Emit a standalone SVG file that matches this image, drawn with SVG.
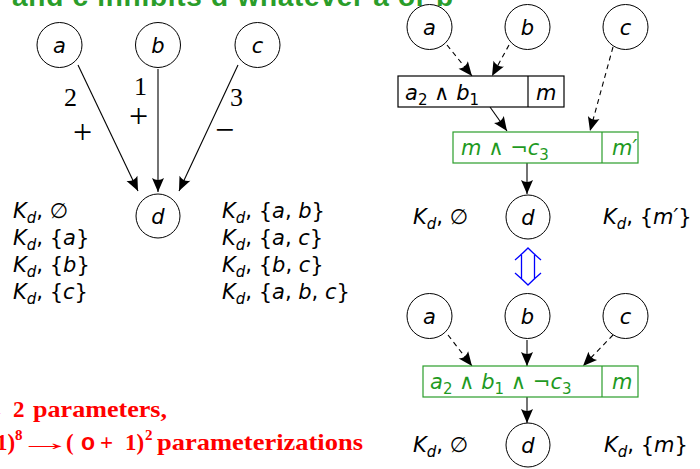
<svg xmlns="http://www.w3.org/2000/svg" width="700" height="469" viewBox="0 0 700 469">
<style>
  .node circle { fill: #fff; stroke: #000; stroke-width: 1; }
  .lbl { font-family: "DejaVu Sans", "Liberation Sans", sans-serif; font-size: 21px; font-style: italic; fill: #000; }
  .m { font-family: "DejaVu Sans", "Liberation Sans", sans-serif; font-size: 21px; fill: #000; }
  .it { font-style: italic; }
  .sub { font-size: 15px; font-style: normal; }
  .subi { font-size: 15px; font-style: italic; }
  .num { font-family: "Liberation Serif", serif; font-size: 26px; fill: #000; }
  .op { font-family: "Liberation Serif", serif; font-size: 34px; fill: #000; }
  .edge { stroke: #000; stroke-width: 1.1; fill: none; }
  .dash { stroke-dasharray: 5 4; }
  .box { fill: #fff; stroke: #000; stroke-width: 1.2; }
  .gbox { fill: #fff; stroke: #2a9d2a; stroke-width: 1.2; }
  .g { fill: #1f9a1f; }
  .red { font-family: "Liberation Serif", serif; font-weight: bold; font-size: 23px; fill: #f00; }
  .title { font-family: "Liberation Sans", "DejaVu Sans", sans-serif; font-weight: bold; font-size: 28px; fill: #2a9d2a; }
</style>
<defs>
  <marker id="arr" markerUnits="userSpaceOnUse" markerWidth="18" markerHeight="16" viewBox="-16 -8 18 16" refX="0" refY="0" orient="auto">
    <path d="M0,0 L-14,-6 Q-10,0 -14,6 Z" fill="#000"/>
  </marker>
</defs>

<text id="title" class="title" x="12" y="6" textLength="441" lengthAdjust="spacing">and c inhibits d whatever a or b</text>

<!-- Left diagram -->
<g id="connectors-left">
  <line class="edge" x1="78" y1="65" x2="138" y2="191" marker-end="url(#arr)"/>
  <line class="edge" x1="158" y1="69" x2="158" y2="192" marker-end="url(#arr)"/>
  <line class="edge" x1="238" y1="65" x2="179" y2="191" marker-end="url(#arr)"/>
  <text class="num" x="64" y="106">2</text>
  <text class="op" x="73" y="143">+</text>
  <text class="num" x="134" y="95">1</text>
  <text class="op" x="129" y="127">+</text>
  <text class="num" x="230" y="106">3</text>
  <text class="op" x="215" y="141">−</text>
</g>
<g id="L-a" class="node"><circle cx="59.5" cy="45" r="22.5"/><text class="lbl" x="59.5" y="53" text-anchor="middle">a</text></g>
<g id="L-b" class="node"><circle cx="158" cy="45" r="22.5"/><text class="lbl" x="158" y="53" text-anchor="middle">b</text></g>
<g id="L-c" class="node"><circle cx="257.5" cy="45" r="22.5"/><text class="lbl" x="257.5" y="53" text-anchor="middle">c</text></g>
<g id="L-d" class="node"><circle cx="158" cy="216" r="22"/><text class="lbl" x="158" y="224" text-anchor="middle">d</text></g>

<g id="L-params-left" class="m">
  <text x="13" y="218"><tspan class="it">K</tspan><tspan class="subi" dy="5">d</tspan><tspan dy="-5">, ∅</tspan></text>
  <text x="13" y="245"><tspan class="it">K</tspan><tspan class="subi" dy="5">d</tspan><tspan dy="-5">, {</tspan><tspan class="it">a</tspan>}</text>
  <text x="13" y="272"><tspan class="it">K</tspan><tspan class="subi" dy="5">d</tspan><tspan dy="-5">, {</tspan><tspan class="it">b</tspan>}</text>
  <text x="13" y="299"><tspan class="it">K</tspan><tspan class="subi" dy="5">d</tspan><tspan dy="-5">, {</tspan><tspan class="it">c</tspan>}</text>
</g>
<g id="L-params-right" class="m">
  <text x="222" y="218"><tspan class="it">K</tspan><tspan class="subi" dy="5">d</tspan><tspan dy="-5">, {</tspan><tspan class="it">a</tspan>, <tspan class="it">b</tspan>}</text>
  <text x="222" y="245"><tspan class="it">K</tspan><tspan class="subi" dy="5">d</tspan><tspan dy="-5">, {</tspan><tspan class="it">a</tspan>, <tspan class="it">c</tspan>}</text>
  <text x="222" y="272"><tspan class="it">K</tspan><tspan class="subi" dy="5">d</tspan><tspan dy="-5">, {</tspan><tspan class="it">b</tspan>, <tspan class="it">c</tspan>}</text>
  <text x="222" y="299"><tspan class="it">K</tspan><tspan class="subi" dy="5">d</tspan><tspan dy="-5">, {</tspan><tspan class="it">a</tspan>, <tspan class="it">b</tspan>, <tspan class="it">c</tspan>}</text>
</g>

<!-- Red text -->
<g id="red-text" class="red">
  <text transform="translate(-43,417) scale(2.4,1)">→</text>
  <text x="13" y="417">2</text>
  <text x="33" y="417" textLength="134" lengthAdjust="spacingAndGlyphs">parameters,</text>
  <text x="-4" y="450">1)</text>
  <text x="15" y="440" font-size="15">8</text>
  <text transform="translate(18,450) scale(2.4,1)">→</text>
  <text x="66" y="450">(</text>
  <text x="81" y="450" font-family="Liberation Sans, sans-serif">o</text>
  <text x="100" y="450">+</text>
  <text x="125" y="450">1)</text>
  <text x="145" y="440" font-size="15">2</text>
  <text x="157" y="450" textLength="206" lengthAdjust="spacingAndGlyphs">parameterizations</text>
</g>

<!-- Right diagram: connectors -->
<g id="connectors-right">
  <line class="edge dash" x1="447" y1="45" x2="472" y2="76" marker-end="url(#arr)"/>
  <line class="edge dash" x1="509" y1="45" x2="492" y2="76" marker-end="url(#arr)"/>
  <line class="edge dash" x1="613" y1="47" x2="590" y2="131" marker-end="url(#arr)"/>
  <line class="edge" x1="490" y1="107" x2="507" y2="131" marker-end="url(#arr)"/>
  <line class="edge" x1="527" y1="163" x2="527" y2="194" marker-end="url(#arr)"/>
  <line class="edge dash" x1="448" y1="335" x2="472" y2="366" marker-end="url(#arr)"/>
  <line class="edge" x1="527" y1="340" x2="527" y2="366" marker-end="url(#arr)"/>
  <line class="edge dash" x1="613" y1="335" x2="583" y2="366" marker-end="url(#arr)"/>
  <line class="edge" x1="527" y1="397" x2="527" y2="423" marker-end="url(#arr)"/>
  <path id="equiv" d="M515,260 Q522,254 528,248 Q534,254 541,260 M521.5,253.5 V279.5 M534.5,253.5 V279.5 M515,273 Q522,279 528,285 Q534,279 541,273" fill="none" stroke="#0000ff" stroke-width="1.3"/>
</g>

<g id="R-a" class="node"><circle cx="429.5" cy="27" r="22.5"/><text class="lbl" x="429.5" y="35" text-anchor="middle">a</text></g>
<g id="R-b" class="node"><circle cx="527.5" cy="27" r="22.5"/><text class="lbl" x="527.5" y="35" text-anchor="middle">b</text></g>
<g id="R-c" class="node"><circle cx="625.5" cy="27" r="22.5"/><text class="lbl" x="625.5" y="35" text-anchor="middle">c</text></g>

<g id="box1">
  <rect class="box" x="398" y="76" width="166" height="31"/>
  <line x1="528" y1="76" x2="528" y2="107" stroke="#000" stroke-width="1.2"/>
  <text class="m" x="405" y="100"><tspan class="it">a</tspan><tspan class="sub" dy="5">2</tspan><tspan dy="-5"> ∧ </tspan><tspan class="it">b</tspan><tspan class="sub" dy="5">1</tspan></text>
  <text class="lbl" x="536" y="100">m</text>
</g>

<g id="box2">
  <rect class="gbox" x="453" y="132" width="185" height="31"/>
  <line x1="602" y1="132" x2="602" y2="163" stroke="#2a9d2a" stroke-width="1.2"/>
  <text class="m g" x="461" y="155"><tspan class="it">m</tspan> ∧ ¬<tspan class="it">c</tspan><tspan class="sub" dy="5">3</tspan></text>
  <svg x="602" y="132" width="36" height="31" overflow="hidden"><text class="lbl g" x="10" y="23">m′</text></svg>
</g>

<g id="R-d" class="node"><circle cx="528" cy="217" r="22"/><text class="lbl" x="528" y="225" text-anchor="middle">d</text></g>
<g id="R-params" class="m">
  <text x="413" y="224"><tspan class="it">K</tspan><tspan class="subi" dy="5">d</tspan><tspan dy="-5">, ∅</tspan></text>
  <text x="603" y="224"><tspan class="it">K</tspan><tspan class="subi" dy="5">d</tspan><tspan dy="-5">, {</tspan><tspan class="it">m′</tspan>}</text>
</g>

<g id="B-a" class="node"><circle cx="429.5" cy="316" r="22.5"/><text class="lbl" x="429.5" y="324" text-anchor="middle">a</text></g>
<g id="B-b" class="node"><circle cx="527.5" cy="316" r="22.5"/><text class="lbl" x="527.5" y="324" text-anchor="middle">b</text></g>
<g id="B-c" class="node"><circle cx="625.5" cy="316" r="22.5"/><text class="lbl" x="625.5" y="324" text-anchor="middle">c</text></g>

<g id="box3">
  <rect class="gbox" x="423" y="366" width="215" height="31"/>
  <line x1="602" y1="366" x2="602" y2="397" stroke="#2a9d2a" stroke-width="1.2"/>
  <text class="m g" x="430" y="389"><tspan class="it">a</tspan><tspan class="sub" dy="5">2</tspan><tspan dy="-5"> ∧ </tspan><tspan class="it">b</tspan><tspan class="sub" dy="5">1</tspan><tspan dy="-5"> ∧ ¬</tspan><tspan class="it">c</tspan><tspan class="sub" dy="5">3</tspan></text>
  <text class="lbl g" x="612" y="389">m</text>
</g>

<g id="B-d" class="node"><circle cx="528" cy="445" r="22"/><text class="lbl" x="528" y="453" text-anchor="middle">d</text></g>
<g id="B-params" class="m">
  <text x="413" y="452"><tspan class="it">K</tspan><tspan class="subi" dy="5">d</tspan><tspan dy="-5">, ∅</tspan></text>
  <text x="604" y="452"><tspan class="it">K</tspan><tspan class="subi" dy="5">d</tspan><tspan dy="-5">, {</tspan><tspan class="it">m</tspan>}</text>
</g>
</svg>
